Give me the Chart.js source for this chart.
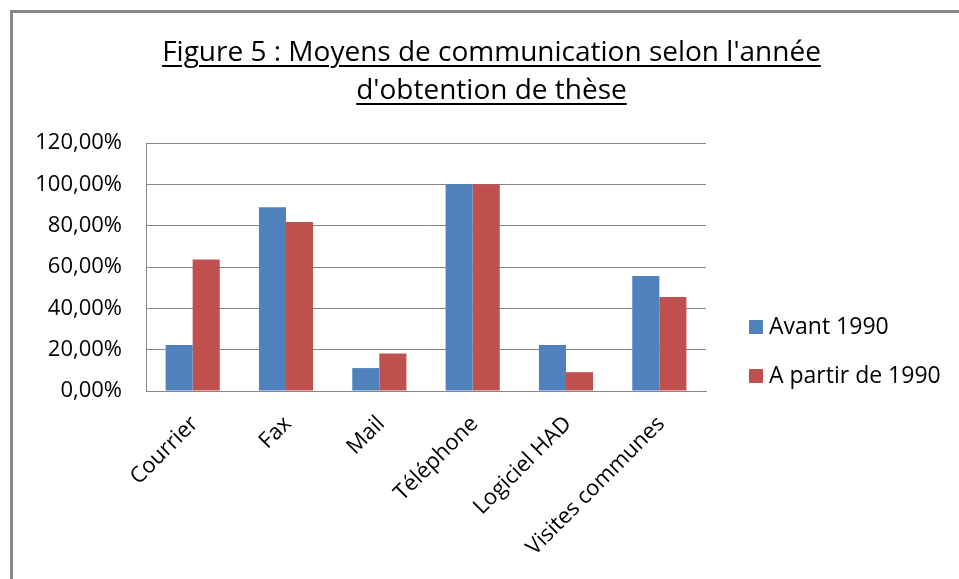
<!DOCTYPE html>
<html>
<head>
<meta charset="utf-8">
<script src="https://cdn.jsdelivr.net/npm/chart.js@4.4.1/dist/chart.umd.min.js"></script>
<style>
  body { margin: 0; background: #fff; }
  #wrap { position: relative; width: 959px; height: 579px; font-family: "Open Sans", sans-serif; color: #000; }
  #title {
    position: absolute; left: 0; top: 31px; width: 983px;
    text-align: center; font-size: 28px; line-height: 38px;
  }
  #title span { text-decoration: underline; text-decoration-thickness: 2px; text-underline-offset: 4px; }
  #legend { position: absolute; left: 749px; top: 309px; font-size: 23px; }
  #legend div { height: 49px; white-space: nowrap; }
  #legend i { display: inline-block; width: 14px; height: 14px; margin-right: 6px; vertical-align: 0px; }
</style>
</head>
<body>
<div id="wrap">
  <canvas id="chart" width="959" height="579"></canvas>
  <div id="title"><span>Figure 5 : Moyens de communication selon l'année</span><br><span>d'obtention de thèse</span></div>
  <div id="legend"></div>
</div>
<script>
// data (shares, 1 = 100 %)
const categories = ["Courrier", "Fax", "Mail", "Téléphone", "Logiciel HAD", "Visites communes"];
const avant1990 = [0.222, 0.889, 0.111, 1.0, 0.222, 0.556];
const apartir1990 = [0.636, 0.818, 0.182, 1.0, 0.091, 0.455];
const seriesNames = ["Avant 1990", "A partir de 1990"];
const seriesColors = ["#4F81BD", "#C0504D"];

const gridColor = "#868686";

// grey frame of the original chart object (left and top edges only are visible)
const framePlugin = {
  id: "frame",
  beforeDraw(chart) {
    const ctx = chart.ctx;
    ctx.save();
    ctx.strokeStyle = "#878787";
    ctx.lineWidth = 3;
    ctx.beginPath();
    ctx.moveTo(11.5, 579);
    ctx.lineTo(11.5, 11.5);
    ctx.lineTo(959, 11.5);
    ctx.stroke();
    ctx.restore();
  },
};

const chart = new Chart(document.getElementById("chart"), {
  type: "bar",
  data: {
    labels: categories,
    datasets: [
      { label: seriesNames[0], data: avant1990, backgroundColor: seriesColors[0] },
      { label: seriesNames[1], data: apartir1990, backgroundColor: seriesColors[1] },
    ],
  },
  options: {
    responsive: false,
    animation: false,
    layout: { padding: { left: 0, top: 143, right: 253, bottom: 0 } },
    datasets: { bar: { categoryPercentage: 0.58, barPercentage: 1.0 } },
    plugins: { legend: { display: false }, tooltip: { enabled: false } },
    scales: {
      x: {
        afterFit: (s) => { s.height = 188; },
        grid: { display: false, drawTicks: false },
        border: { color: gridColor, width: 1 },
        ticks: {
          color: "#000",
          font: { family: "Open Sans", size: 22 },
          minRotation: 45,
          maxRotation: 45,
          padding: 20,
          labelOffset: 2,
        },
      },
      y: {
        min: 0,
        max: 1.2,
        afterFit: (s) => { s.width = 146; },
        grid: { color: gridColor, drawTicks: false },
        border: { color: gridColor, width: 1 },
        ticks: {
          stepSize: 0.2,
          color: "#000",
          font: { family: "Open Sans", size: 22 },
          padding: 24,
          callback: (v) => (v * 100).toFixed(2).replace(".", ",") + "%",
        },
      },
    },
  },
  plugins: [framePlugin],
});

// legend built from the chart's own datasets
const legend = document.getElementById("legend");
chart.data.datasets.forEach((ds) => {
  const row = document.createElement("div");
  row.innerHTML = '<i style="background:' + ds.backgroundColor + '"></i>' + ds.label;
  legend.appendChild(row);
});
</script>
</body>
</html>
